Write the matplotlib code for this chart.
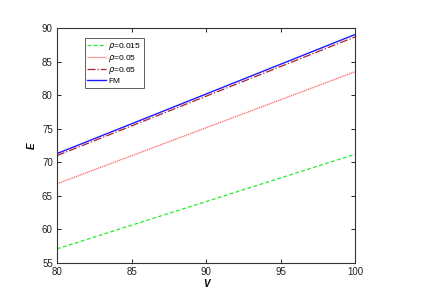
import matplotlib.pyplot as plt

plt.rcParams['font.family'] = ['Liberation Sans', 'DejaVu Sans']

V = [80, 100]
E_rho_0015 = [57.1, 71.2]
E_rho_005 = [66.8, 83.5]
E_rho_065 = [71.0, 88.7]
E_fm = [71.3, 89.05]
labels = [r'$\rho$=0.015', r'$\rho$=0.05', r'$\rho$=0.65', 'FM']

fig = plt.figure(figsize=(4.4, 2.96), dpi=100)
ax = fig.add_axes([0.1295, 0.1115, 0.6775, 0.7935])

ax.plot(V, E_rho_0015, color='#22ee22', ls=(0, (3, 2)), lw=0.9, label=labels[0])
ax.plot(V, E_rho_005, color='#ff6666', ls=(0, (1, 0.6)), lw=0.9, label=labels[1])
ax.plot(V, E_rho_065, color='#b02030', ls='-.', lw=0.9, label=labels[2])
ax.plot(V, E_fm, color='#1a1aff', ls='-', lw=1.0, label=labels[3])

ax.set_xlim(80, 100)
ax.set_ylim(55, 90)
ax.set_xticks([80, 85, 90, 95, 100])
ax.set_yticks(range(55, 91, 5))
ax.tick_params(direction='in', labelsize=7, length=3, width=0.6,
               top=True, right=True, pad=3, labelcolor='#222222')
for s in ax.spines.values():
    s.set_linewidth(0.8)
    s.set_color('#333333')

ax.set_xlabel('V', fontsize=7, style='italic', fontweight='bold', labelpad=1)
ax.set_ylabel('E', fontsize=7, style='italic', fontweight='bold', labelpad=4)

leg = ax.legend(loc='upper left', bbox_to_anchor=(0.08, 0.975), fontsize=6,
                frameon=True, fancybox=False, handlelength=2.2,
                borderpad=0.3, labelspacing=0.15, handletextpad=0.3)
leg.get_frame().set_edgecolor('#333333')
leg.get_frame().set_linewidth(0.7)

plt.savefig('out.png', dpi=100)
